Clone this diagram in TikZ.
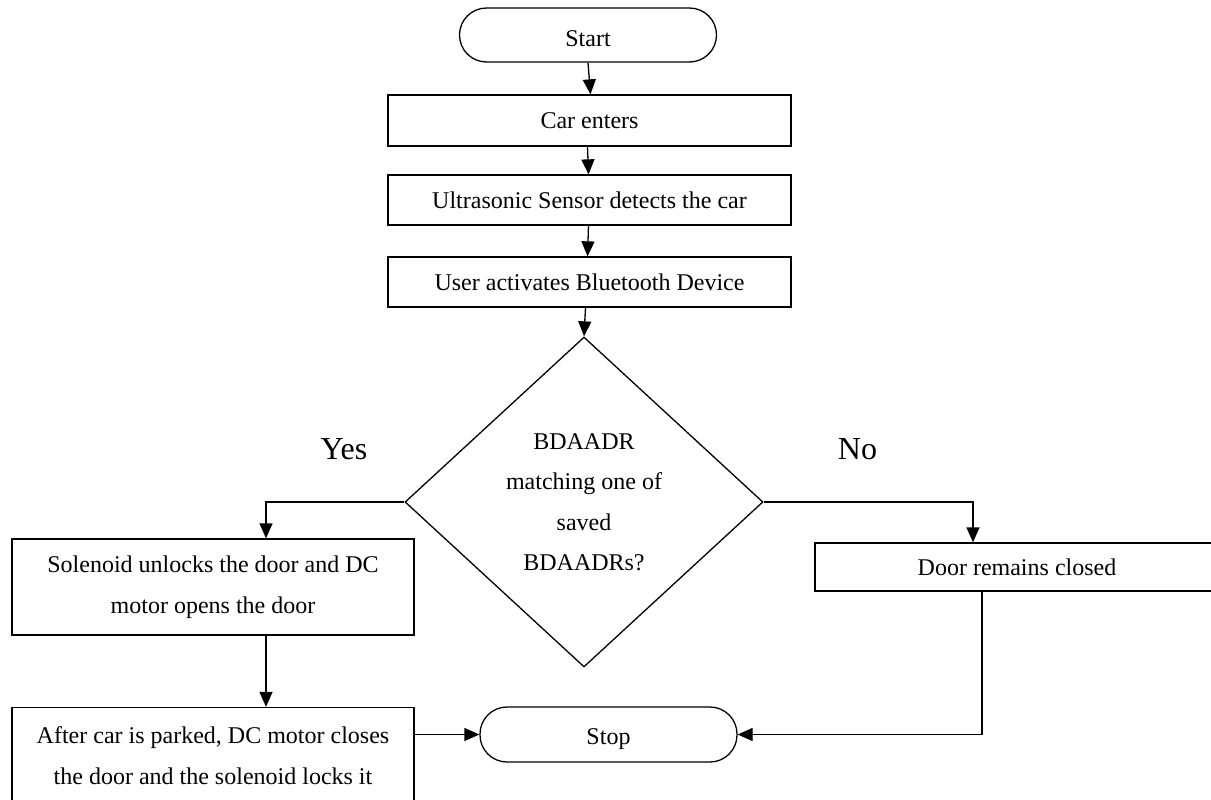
\documentclass[tikz,border=0pt]{standalone}
\usepackage{fontspec}
\setmainfont{Liberation Serif}
\usetikzlibrary{shapes.geometric,arrows.meta,calc}
\begin{document}
\begin{tikzpicture}[x=1pt,y=-1pt,
  every node/.style={font=\fontsize{24}{40.5}\selectfont, inner sep=0pt},
  box/.style={draw, line width=1.3pt, minimum width=403pt, align=center},
  term/.style={draw, line width=1.3pt, rounded corners=27pt, minimum width=257pt, minimum height=54pt, text depth=0pt},
  decision/.style={draw, diamond, line width=1.3pt, minimum width=358pt, minimum height=330pt, align=center},
  flow/.style={line width=1.3pt, -{Triangle[length=15pt,width=13pt]}},
  lab/.style={font=\fontsize{32}{38}\selectfont}
]
\useasboundingbox (0,0) rectangle (1211,800);
\clip (0,0) rectangle (1211,800);
\fill[white] (0,0) rectangle (1211,800);

% main column
\node[term, text height=24pt] (start) at (588,35) {Start};
\node[box, minimum height=51pt] (car) at (589.5,120.5) {Car enters};
\node[box, minimum height=50pt] (ultra) at (589.5,200) {Ultrasonic Sensor detects the car};
\node[box, minimum height=50pt] (user) at (589.5,282) {User activates Bluetooth Device};
\node[decision] (dec) at (584,502) {BDAADR\\matching one of\\saved\\BDAADRs?};

% branches
\node[box, minimum width=402pt, minimum height=96pt] (sol) at (213,587) {Solenoid unlocks the door and DC\\motor opens the door};
\node[box, minimum width=402pt, minimum height=96pt] (after) at (213,755.5) {After car is parked, DC motor closes\\the door and the solenoid locks it};
\node[box, minimum width=404pt, minimum height=48pt] (door) at (1017,567) {Door remains closed};
\node[term, minimum height=55pt, text height=19pt] (stop) at (608.5,734.5) {Stop};

\node[lab] (yes) at (344,449) {Yes};
\node[lab] (no) at (857.5,449) {No};

% connectors
\draw[flow] (start.south) -- ([xshift=1pt]car.north);
\draw[flow] ([xshift=-2pt]car.south) -- ([xshift=-1pt]ultra.north);
\draw[flow] ([xshift=-1pt]ultra.south) -- ([xshift=-2pt]user.north);
\draw[flow] ([xshift=-4pt]user.south) -- (dec.north);
\draw[flow] (dec.west) -| ([xshift=53pt]sol.north);
\draw[flow] ([xshift=53pt]sol.south) -- ([xshift=53pt]after.north);
\draw[flow] (after.east |- stop.west) -- (stop.west);
\draw[flow] (dec.east) -| ([xshift=-44pt]door.north);
\draw[flow] ([xshift=-35pt]door.south) |- (stop.east);
\end{tikzpicture}
\end{document}
